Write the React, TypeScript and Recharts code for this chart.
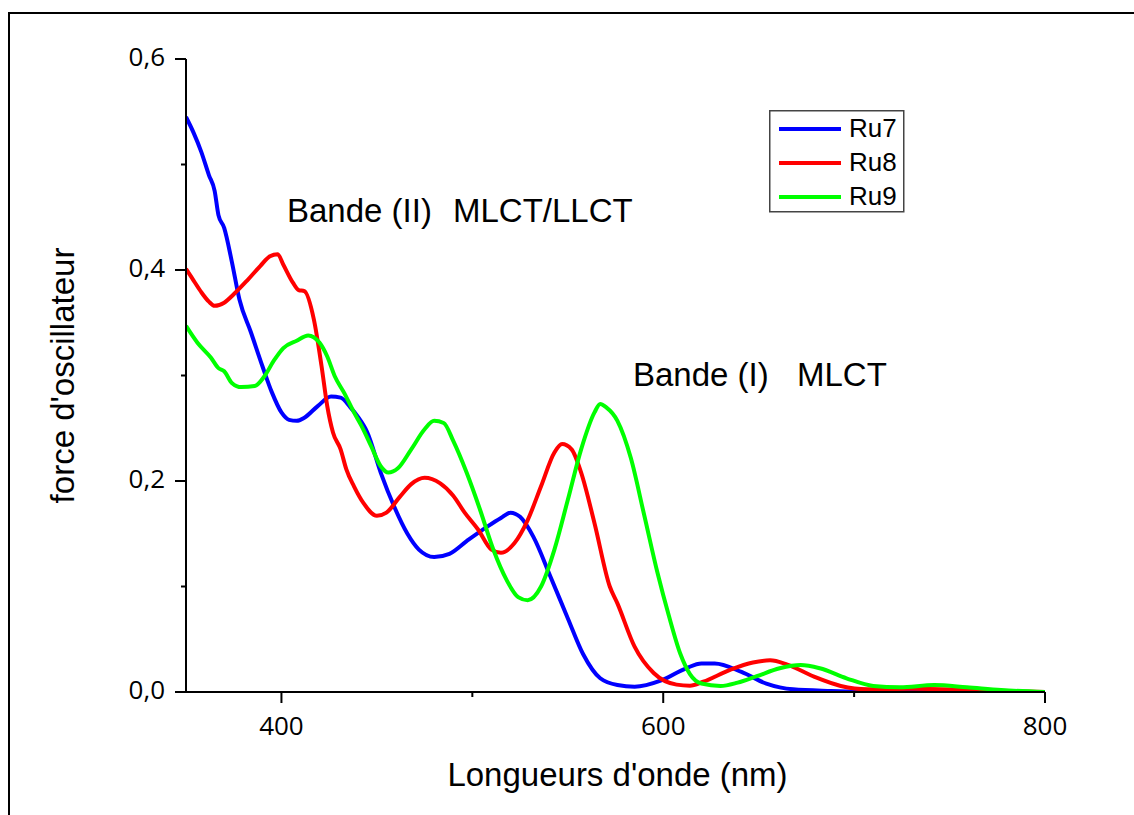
import React from 'react';
import { LineChart, Line, XAxis, YAxis, Legend, Customized } from 'recharts';

// Computed oscillator strengths of the three ruthenium complexes
const ru7Wavelengths = [350, 354, 358, 362, 365, 367, 370, 374, 378, 384, 390, 395, 400, 404, 408, 412, 419, 426, 431, 436, 440, 445, 452, 459, 466, 472, 480, 488, 497, 508, 515, 520, 525, 532, 541, 550, 558, 567, 576, 585, 599, 612, 620, 627, 641, 654, 668, 688, 720, 800];
const ru7Strengths = [0.545, 0.53, 0.512, 0.49, 0.475, 0.452, 0.44, 0.408, 0.372, 0.341, 0.309, 0.284, 0.265, 0.258, 0.257, 0.26, 0.271, 0.28, 0.279, 0.27, 0.261, 0.246, 0.208, 0.176, 0.15, 0.135, 0.128, 0.131, 0.143, 0.157, 0.165, 0.17, 0.166, 0.147, 0.109, 0.07, 0.036, 0.013, 0.0066, 0.005, 0.011, 0.0225, 0.027, 0.027, 0.019, 0.008, 0.0025, 0.001, 0, 0];

const ru8Wavelengths = [350, 354, 358, 362, 365, 370, 375, 382, 389, 394, 398, 401, 406, 409, 412, 417, 421, 424, 427, 431, 434, 438, 443, 450, 455, 462, 468, 475, 483, 490, 496, 503, 510, 515, 522, 529, 536, 543, 547, 552, 557, 564, 572, 576, 585, 595, 607, 614, 621, 635, 647, 656, 665, 679, 693, 707, 730, 760, 800];
const ru8Strengths = [0.401, 0.39, 0.379, 0.37, 0.366, 0.369, 0.377, 0.39, 0.404, 0.413, 0.415, 0.405, 0.388, 0.381, 0.38, 0.353, 0.309, 0.271, 0.246, 0.23, 0.211, 0.195, 0.179, 0.167, 0.17, 0.185, 0.197, 0.203, 0.198, 0.186, 0.17, 0.154, 0.135, 0.132, 0.141, 0.163, 0.195, 0.227, 0.235, 0.23, 0.208, 0.16, 0.1, 0.084, 0.043, 0.018, 0.007, 0.006, 0.0098, 0.021, 0.028, 0.03, 0.026, 0.0145, 0.0057, 0.0025, 0.003, 0.002, 0];

const ru9Wavelengths = [350, 356, 363, 367, 370, 374, 379, 386, 391, 396, 401, 408, 414, 420, 424, 428, 433, 438, 442, 447, 452, 456, 461, 468, 475, 480, 485, 490, 497, 504, 511, 518, 524, 529, 536, 543, 550, 557, 564, 567, 570, 576, 583, 590, 597, 603, 609, 614, 620, 630, 639, 649, 661, 672, 682, 696, 710, 724, 742, 759, 777, 800];
const ru9Strengths = [0.347, 0.331, 0.317, 0.307, 0.304, 0.293, 0.289, 0.29, 0.299, 0.314, 0.326, 0.333, 0.338, 0.331, 0.318, 0.299, 0.283, 0.265, 0.252, 0.233, 0.214, 0.208, 0.212, 0.23, 0.249, 0.257, 0.255, 0.238, 0.208, 0.173, 0.135, 0.106, 0.09, 0.087, 0.1, 0.135, 0.182, 0.23, 0.265, 0.273, 0.27, 0.257, 0.222, 0.168, 0.113, 0.072, 0.036, 0.017, 0.008, 0.0057, 0.0089, 0.015, 0.0225, 0.0256, 0.0225, 0.013, 0.0057, 0.0045, 0.0066, 0.0045, 0.0019, 0];

const seriesNames = ['Ru7', 'Ru8', 'Ru9'];
const seriesColors = ['#0000FF', '#FF0000', '#00FF00'];

const xTicks = [400, 500, 600, 700, 800];
const xLabeledTicks = [400, 600, 800];
const yTicks = [0, 0.1, 0.2, 0.3, 0.4, 0.5, 0.6];
const yLabeledTicks = [0, 0.2, 0.4, 0.6];

const xTitle = "Longueurs d'onde (nm)";
const yTitle = "force d'oscillateur";

const annotations = [
  { text: 'Bande (II)', x: 287, y: 222 },
  { text: 'MLCT/LLCT', x: 453, y: 222 },
  { text: 'Bande (I)', x: 633, y: 386 },
  { text: 'MLCT', x: 797, y: 386 },
];

const toPoints = (xs: number[], ys: number[]) => xs.map((w, i) => ({ wavelength: w, f: ys[i] }));
const seriesData = [
  toPoints(ru7Wavelengths, ru7Strengths),
  toPoints(ru8Wavelengths, ru8Strengths),
  toPoints(ru9Wavelengths, ru9Strengths),
];

const ARIAL = 'Liberation Sans, Arial, sans-serif';
const TICK_FONT = 'Open Sans, Liberation Sans, sans-serif';

const XTick = (props: any) => {
  const { x, y, payload } = props;
  const major = xLabeledTicks.includes(payload.value);
  return (
    <g>
      <line x1={x} x2={x} y1={y} y2={y + (major ? 11 : 5)} stroke="#000" strokeWidth={2} />
      {major && (
        <text x={x} y={y + 43} textAnchor="middle" fontFamily={TICK_FONT} fontSize={26} fill="#000">
          {payload.value}
        </text>
      )}
    </g>
  );
};

const YTick = (props: any) => {
  const { x, y, payload } = props;
  const major = yLabeledTicks.some((t) => Math.abs(t - payload.value) < 1e-9);
  return (
    <g>
      <line x1={x - (major ? 11 : 5)} x2={x} y1={y} y2={y} stroke="#000" strokeWidth={2} />
      {major && (
        <text x={x - 21} y={y + 7} textAnchor="end" fontFamily={TICK_FONT} fontSize={26} fill="#000">
          {payload.value.toFixed(1).replace('.', ',')}
        </text>
      )}
    </g>
  );
};

const XTitle = (props: any) => {
  const vb = props.viewBox;
  return (
    <text x={vb.x + vb.width / 2 + 2} y={vb.y + 94} textAnchor="middle" fontFamily={ARIAL} fontSize={33} fill="#000">
      {xTitle}
    </text>
  );
};

const YTitle = (props: any) => {
  const vb = props.viewBox;
  const cx = vb.x - 12;
  const cy = vb.y + vb.height / 2;
  return (
    <text x={cx} y={cy} transform={`rotate(-90 ${cx} ${cy})`} textAnchor="middle" fontFamily={ARIAL} fontSize={33} fill="#000">
      {yTitle}
    </text>
  );
};

const LegendBox = (props: any) => {
  const payload = props.payload || [];
  return (
    <svg width={136} height={103} style={{ display: 'block' }}>
      <rect x={0.75} y={0.75} width={134} height={101} fill="#fff" stroke="#444" strokeWidth={1.5} />
      {payload.map((p: any, i: number) => (
        <g key={p.value}>
          <line x1={10} x2={72} y1={19 + i * 34} y2={19 + i * 34} stroke={p.color} strokeWidth={4} />
          <text x={80} y={27 + i * 34} fontFamily={ARIAL} fontSize={26} fill="#000">
            {p.value}
          </text>
        </g>
      ))}
    </svg>
  );
};

const Annotations = () => (
  <g>
    {annotations.map((a) => (
      <text key={a.text + a.x} x={a.x} y={a.y} fontFamily={ARIAL} fontSize={33} fill="#000">
        {a.text}
      </text>
    ))}
  </g>
);

export default function App() {
  return (
    <div style={{ position: 'absolute', left: 0, top: 0, width: 1134, height: 815, overflow: 'hidden', background: '#fff' }}>
      <div
        style={{
          position: 'absolute',
          left: 8,
          top: 12,
          width: 1200,
          height: 900,
          border: '2px solid #000',
          boxSizing: 'border-box',
        }}
      />
      <div style={{ position: 'absolute', left: 0, top: 0 }}>
        <LineChart width={1134} height={815} margin={{ top: 59, right: 89, bottom: 23, left: 86 }}>
          <XAxis
            dataKey="wavelength"
            type="number"
            domain={[350, 800]}
            allowDataOverflow
            ticks={xTicks}
            interval={0}
            height={100}
            tickSize={0}
            tickMargin={0}
            tick={<XTick />}
            axisLine={{ stroke: '#000', strokeWidth: 2 }}
            tickLine={false}
            label={<XTitle />}
          />
          <YAxis
            type="number"
            domain={[0, 0.6]}
            allowDataOverflow
            ticks={yTicks}
            interval={0}
            width={100}
            tickSize={0}
            tickMargin={0}
            tick={<YTick />}
            axisLine={{ stroke: '#000', strokeWidth: 2 }}
            tickLine={false}
            label={<YTitle />}
          />
          {seriesData.map((d, i) => (
            <Line
              key={seriesNames[i]}
              data={d}
              dataKey="f"
              name={seriesNames[i]}
              type="monotone"
              stroke={seriesColors[i]}
              strokeWidth={4}
              dot={false}
              activeDot={false}
              isAnimationActive={false}
            />
          ))}
          <Legend
            layout="horizontal"
            verticalAlign="middle"
            align="center"
            wrapperStyle={{ left: 769, top: 110, width: 136, height: 103 }}
            content={<LegendBox />}
          />
          <Customized component={<Annotations />} />
        </LineChart>
      </div>
    </div>
  );
}
